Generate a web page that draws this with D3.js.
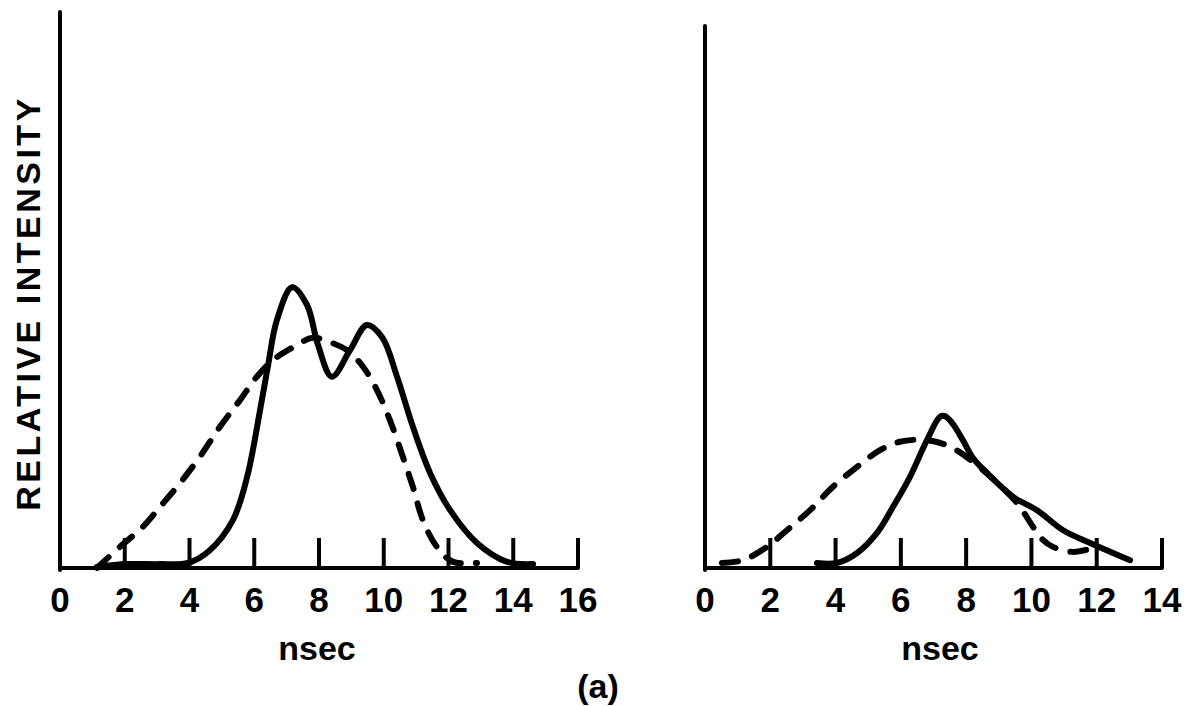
<!DOCTYPE html>
<html>
<head>
<meta charset="utf-8">
<script src="https://cdn.jsdelivr.net/npm/d3@7/dist/d3.min.js"></script>
<style>
  html, body { margin: 0; padding: 0; background: #fff; }
  svg { display: block; }
  text { font-family: "Liberation Sans", Arial, sans-serif; font-weight: bold; fill: #000; }
</style>
</head>
<body>
<svg id="chart" width="1184" height="706"></svg>
<script>
// ---- Data ----
const leftTicks = [2, 4, 6, 8, 10, 12, 14, 16];
const leftTickLabels = ["0", "2", "4", "6", "8", "10", "12", "14", "16"];
const rightTicks = [2, 4, 6, 8, 10, 12, 14];
const rightTickLabels = ["0", "2", "4", "6", "8", "10", "12", "14"];

// Left panel, solid curve [nsec, relative intensity]
const leftSolid = [
  [1.14, 0.2], [2.07, 0.7], [3.09, 0.7], [3.95, 0.9], [4.63, 3.2], [5.34, 8.6],
  [5.78, 16.4], [6.18, 28.4], [6.42, 36.2], [6.70, 44.6], [7.17, 50.5], [7.63, 47.3],
  [7.97, 40.1], [8.40, 34.4], [8.96, 39.2], [9.48, 43.7], [9.95, 41.5], [10.41, 34.4],
  [10.90, 25.4], [11.43, 17.1], [12.05, 10.4], [12.88, 4.5], [13.81, 1.1], [14.61, 0.7]
];
// Left panel, dashed curve
const leftDashed = [
  [1.14, 0.0], [1.85, 3.8], [2.56, 7.4], [3.09, 11.0], [3.71, 15.3], [4.32, 20.0],
  [4.94, 25.4], [5.56, 30.2], [6.08, 34.4], [6.58, 37.4], [7.20, 39.7], [7.81, 41.4],
  [8.34, 40.6], [8.86, 39.2], [9.36, 36.2], [9.79, 32.0], [10.19, 26.6], [10.59, 20.0],
  [10.90, 14.6], [11.21, 8.6], [11.64, 3.8], [12.14, 1.1], [12.88, 0.9]
];
// Right panel, solid curve
const rightSolid = [
  [3.43, 0.9], [4.04, 0.9], [4.66, 2.7], [5.27, 6.3], [5.76, 11.0], [6.28, 16.4],
  [6.80, 23.0], [7.20, 27.2], [7.35, 27.3], [7.57, 26.1], [7.90, 23.0], [8.21, 19.8],
  [8.64, 17.1], [9.44, 12.8], [10.17, 10.4], [10.97, 6.8], [11.80, 4.5], [13.02, 1.4]
];
// Right panel, dashed curve
const rightDashed = [
  [0.52, 0.9], [1.16, 1.4], [1.90, 3.8], [2.51, 6.8], [3.22, 10.4], [3.92, 14.6],
  [4.66, 18.2], [5.36, 21.2], [5.97, 22.7], [6.80, 23.0], [7.51, 21.8], [8.21, 19.1],
  [8.95, 15.3], [9.56, 11.7], [10.05, 7.4], [10.36, 5.0], [10.66, 3.8], [11.27, 2.9],
  [11.89, 3.6]
];

// ---- Drawing ----
const svg = d3.select("#chart");
const y = d3.scaleLinear().domain([0, 100]).range([568, 12]);

const panels = [
  { x: d3.scaleLinear().domain([0, 16]).range([60, 578]), ticks: leftTicks, labels: leftTickLabels,
    solid: leftSolid, dashed: leftDashed, yTop: 100, xLabel: "nsec", xLabelPos: 317 },
  { x: d3.scaleLinear().domain([0, 14]).range([705, 1162]), ticks: rightTicks, labels: rightTickLabels,
    solid: rightSolid, dashed: rightDashed, yTop: 97.5, xLabel: "nsec", xLabelPos: 940 }
];

panels.forEach(p => {
  const g = svg.append("g");
  const dom = p.x.domain();
  // y axis line
  g.append("line")
    .attr("x1", p.x(dom[0])).attr("x2", p.x(dom[0]))
    .attr("y1", y(0) + 2).attr("y2", y(p.yTop))
    .attr("stroke", "#000").attr("stroke-width", 4).attr("stroke-linecap", "round");
  // x axis line
  g.append("line")
    .attr("x1", p.x(dom[0])).attr("x2", p.x(dom[1]))
    .attr("y1", y(0)).attr("y2", y(0))
    .attr("stroke", "#000").attr("stroke-width", 4).attr("stroke-linecap", "round");
  // ticks (upward)
  g.selectAll("line.tick").data(p.ticks).join("line")
    .attr("class", "tick")
    .attr("x1", d => p.x(d)).attr("x2", d => p.x(d))
    .attr("y1", y(0)).attr("y2", y(0) - 30)
    .attr("stroke", "#000").attr("stroke-width", 4);
  // tick labels
  g.selectAll("text.tl").data(p.labels).join("text")
    .attr("class", "tl")
    .attr("x", (d, i) => p.x(i * 2))
    .attr("y", 612)
    .attr("text-anchor", "middle")
    .attr("font-size", 35)
    .text(d => d);
  // x label
  g.append("text")
    .attr("x", p.xLabelPos).attr("y", 660)
    .attr("text-anchor", "middle").attr("font-size", 34)
    .text(p.xLabel);

  const line = d3.line()
    .x(d => p.x(d[0])).y(d => y(d[1]))
    .curve(d3.curveCatmullRom.alpha(0.5));
  g.append("path").attr("d", line(p.dashed))
    .attr("fill", "none").attr("stroke", "#000").attr("stroke-width", 6)
    .attr("stroke-linecap", "round").attr("stroke-dasharray", "16,15");
  g.append("path").attr("d", line(p.solid))
    .attr("fill", "none").attr("stroke", "#000").attr("stroke-width", 6)
    .attr("stroke-linecap", "round").attr("stroke-linejoin", "round");
});

// y axis title
svg.append("text")
  .attr("transform", "translate(40,303) rotate(-90)")
  .attr("text-anchor", "middle")
  .attr("font-size", 34)
  .attr("letter-spacing", 3.5)
  .text("RELATIVE  INTENSITY");

// caption
svg.append("text")
  .attr("x", 598).attr("y", 698)
  .attr("text-anchor", "middle").attr("font-size", 34)
  .text("(a)");
</script>
</body>
</html>
